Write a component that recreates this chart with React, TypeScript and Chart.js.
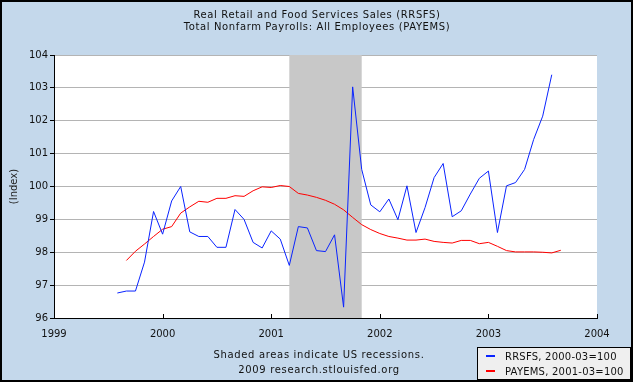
import React, { useEffect, useRef } from "react";
import { Chart, registerables } from "chart.js";

Chart.register(...registerables);

const months = [
  "1999-08", "1999-09", "1999-10", "1999-11", "1999-12",
  "2000-01", "2000-02", "2000-03", "2000-04", "2000-05", "2000-06",
  "2000-07", "2000-08", "2000-09", "2000-10", "2000-11", "2000-12",
  "2001-01", "2001-02", "2001-03", "2001-04", "2001-05", "2001-06",
  "2001-07", "2001-08", "2001-09", "2001-10", "2001-11", "2001-12",
  "2002-01", "2002-02", "2002-03", "2002-04", "2002-05", "2002-06",
  "2002-07", "2002-08", "2002-09", "2002-10", "2002-11", "2002-12",
  "2003-01", "2003-02", "2003-03", "2003-04", "2003-05", "2003-06",
  "2003-07", "2003-08", "2003-09",
];

const rrsfs: (number | null)[] = [
  96.76, 96.82, 96.82, 97.7, 99.24,
  98.55, 99.56, 100.0, 98.62, 98.48, 98.48,
  98.15, 98.15, 99.3, 99.0, 98.3, 98.13,
  98.65, 98.4, 97.6, 98.78, 98.74, 98.05,
  98.02, 98.53, 96.33, 103.03, 100.52, 99.44,
  99.23, 99.62, 98.99, 100.02, 98.6, 99.36,
  100.27, 100.7, 99.08, 99.26, 99.77, 100.25,
  100.47, 98.6, 100.02, 100.12, 100.52, 101.43,
  102.14, 103.4, null,
];

const payems: (number | null)[] = [
  null, 97.75, 98.03, 98.25, 98.48,
  98.7, 98.78, 99.19, 99.38, 99.55, 99.52,
  99.64, 99.64, 99.72, 99.7, 99.87, 99.99,
  99.97, 100.03, 100.0, 99.79, 99.74, 99.67,
  99.58, 99.46, 99.29, 99.06, 98.84, 98.69,
  98.57, 98.48, 98.43, 98.37, 98.37, 98.4,
  98.33, 98.3, 98.28, 98.36, 98.36, 98.26,
  98.3, 98.18, 98.05, 98.01, 98.01, 98.01,
  98.0, 97.98, 98.06,
];

const xYears = [1999, 2000, 2001, 2002, 2003, 2004];
const yMin = 96;
const yMax = 104;
const recessionStart = "2001-03";
const recessionEnd = "2001-11";

const titleLines = [
  "Real Retail and Food Services Sales (RRSFS)",
  "Total Nonfarm Payrolls: All Employees (PAYEMS)",
];
const footerLines = [
  "Shaded areas indicate US recessions.",
  "2009 research.stlouisfed.org",
];
const seriesLabels = ["RRSFS, 2000-03=100", "PAYEMS, 2001-03=100"];
const seriesColors = ["#0A24FF", "#FF0000"];

const toYear = (m: string) => {
  const [y, mo] = m.split("-").map(Number);
  return y + (mo - 1) / 12;
};

const FONT = "'DejaVu Sans', Verdana, sans-serif";

export default function App() {
  const ref = useRef<HTMLCanvasElement | null>(null);

  useEffect(() => {
    if (!ref.current) return;
    const plotBg = {
      id: "plotBg",
      beforeDraw(chart: any) {
        const { ctx, chartArea: a } = chart;
        ctx.save();
        ctx.fillStyle = "#FFFFFF";
        ctx.fillRect(a.left, a.top, a.right - a.left, a.bottom - a.top);
        ctx.restore();
      },
    };
    const recession = {
      id: "recession",
      beforeDatasetsDraw(chart: any) {
        const { ctx, chartArea: a, scales } = chart;
        const x0 = scales.x.getPixelForValue(toYear(recessionStart));
        const x1 = scales.x.getPixelForValue(toYear(recessionEnd));
        ctx.save();
        ctx.fillStyle = "#C8C8C8";
        ctx.fillRect(x0, a.top, x1 - x0, a.bottom - a.top);
        ctx.restore();
      },
    };
    const xTickMarks = {
      id: "xTickMarks",
      afterDatasetsDraw(chart: any) {
        const { ctx, chartArea: a, scales } = chart;
        ctx.save();
        ctx.strokeStyle = "#000";
        ctx.lineWidth = 1;
        scales.x.ticks.forEach((t: any) => {
          const px = Math.round(scales.x.getPixelForValue(t.value)) + 0.5;
          ctx.beginPath();
          ctx.moveTo(px, a.bottom);
          ctx.lineTo(px, a.bottom - 4);
          ctx.stroke();
        });
        ctx.restore();
      },
    };

    const chart = new Chart(ref.current, {
      type: "line",
      data: {
        datasets: [
          {
            label: seriesLabels[0],
            data: months.map((m, i) => ({ x: toYear(m), y: rrsfs[i] })) as any,
            borderColor: seriesColors[0],
            borderWidth: 1,
            pointRadius: 0,
            spanGaps: false,
          },
          {
            label: seriesLabels[1],
            data: months.map((m, i) => ({ x: toYear(m), y: payems[i] })) as any,
            borderColor: seriesColors[1],
            borderWidth: 1,
            pointRadius: 0,
            spanGaps: false,
          },
        ],
      },
      options: {
        animation: false,
        responsive: false,
        devicePixelRatio: 1,
        layout: { padding: { left: 0, top: 55, right: 37, bottom: 0 } },
        plugins: {
          legend: { display: false },
          title: { display: false },
          tooltip: { enabled: false },
        },
        scales: {
          x: {
            type: "linear",
            min: xYears[0],
            max: xYears[xYears.length - 1],
            afterBuildTicks: (scale: any) => {
              scale.ticks = xYears.map((v) => ({ value: v }));
            },
            afterFit: (scale: any) => {
              scale.height = 66;
            },
            grid: { drawOnChartArea: false, drawTicks: false },
            border: { color: "#000", width: 1 },
            ticks: {
              color: "#111",
              font: { family: FONT, size: 10 },
              padding: 10,
              maxRotation: 0,
              autoSkip: false,
              callback: (v: any) => String(v),
            },
          },
          y: {
            type: "linear",
            min: yMin,
            max: yMax,
            afterFit: (scale: any) => {
              scale.width = 54;
            },
            grid: { color: "#B4B4B4", tickColor: "#000", tickLength: 4, lineWidth: 1 },
            border: { color: "#000", width: 1 },
            ticks: {
              stepSize: 1,
              color: "#111",
              font: { family: FONT, size: 10 },
              padding: 2,
              callback: (v: any) => String(v),
            },
            title: {
              display: true,
              text: "(Index)",
              color: "#222",
              font: { family: FONT, size: 10 },
              padding: { top: 8, bottom: 0 },
            },
          },
        },
      },
      plugins: [plotBg, recession, xTickMarks],
    });
    return () => chart.destroy();
  }, []);

  const textStyle: React.CSSProperties = {
    fontFamily: FONT,
    fontSize: 10,
    color: "#111",
    whiteSpace: "nowrap",
  };

  return (
    <div style={{ position: "absolute", left: 0, top: 0, width: 634, height: 384, background: "#fff" }}>
      <div
        style={{
          position: "absolute",
          left: 0,
          top: 0,
          width: 633,
          height: 382,
          boxSizing: "border-box",
          border: "2px solid #000",
          background: "#C4D8EB",
        }}
      />
      <canvas
        ref={ref}
        width={634}
        height={384}
        style={{ position: "absolute", left: 0, top: 0, width: 634, height: 384 }}
      />
      <div
        style={{
          ...textStyle,
          position: "absolute",
          left: 0,
          top: 9,
          width: 634,
          textAlign: "center",
          lineHeight: "12px",
          letterSpacing: "0.62px",
        }}
      >
        {titleLines.map((t) => (
          <div key={t}>{t}</div>
        ))}
      </div>
      <div
        style={{
          ...textStyle,
          position: "absolute",
          left: 119,
          top: 348,
          width: 400,
          textAlign: "center",
          lineHeight: "14.5px",
          letterSpacing: "0.66px",
        }}
      >
        {footerLines.map((t) => (
          <div key={t}>{t}</div>
        ))}
      </div>
      <div
        style={{
          position: "absolute",
          left: 477,
          top: 347,
          width: 154,
          height: 33,
          boxSizing: "border-box",
          border: "1px solid #000",
          background: "#EFEFEF",
        }}
      >
        {seriesLabels.map((label, i) => (
          <div
            key={label}
            style={{ position: "absolute", left: 0, top: 1 + i * 15, height: 15, width: 152 }}
          >
            <div
              style={{
                position: "absolute",
                left: 8,
                top: 6,
                width: 9,
                height: 2,
                background: seriesColors[i],
              }}
            />
            <div
              style={{
                ...textStyle,
                position: "absolute",
                left: 27,
                top: 0,
                lineHeight: "15px",
                letterSpacing: "0.22px",
              }}
            >
              {label}
            </div>
          </div>
        ))}
      </div>
    </div>
  );
}
